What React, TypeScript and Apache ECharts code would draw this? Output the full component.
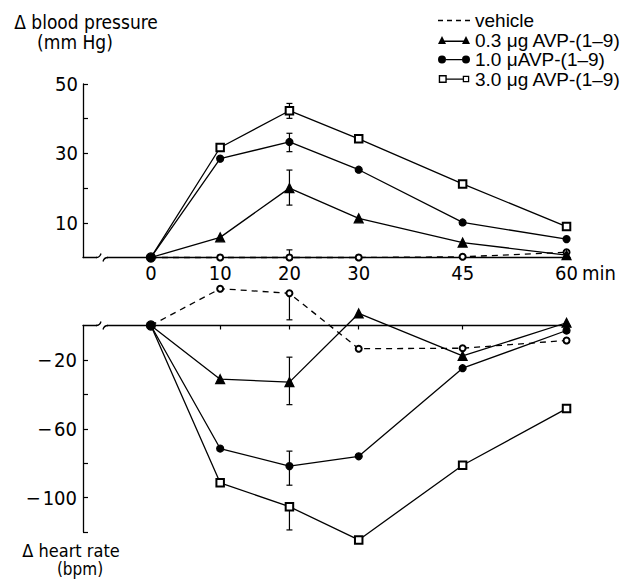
import React, { useEffect, useRef } from 'react';
import * as echarts from 'echarts';

// ---- data ----
const times = [0, 10, 20, 30, 45, 60];
const timeTickLabels = [0, 10, 20, 30, 45, 60];
const timeTicks = [10, 20, 30, 45, 60];
const bpTickLabels = [10, 30, 50];
const bpTicks = [10, 20, 30, 40, 50];
const hrTickLabels = [-20, -60, -100];
const hrTicks = [-20, -40, -60, -80, -100, -120];

const seriesNames = ['vehicle', '0.3 μg AVP-(1–9)', '1.0 μAVP-(1–9)', '3.0 μg AVP-(1–9)'];

// Δ blood pressure (mm Hg)
const bpVehicle = [0, 0, 0, 0, 0.2, 1.5];
const bp03 = [0, 5.8, 20, 11.3, 4.3, 0.7];
const bp10 = [0, 28.5, 33.3, 25.3, 10.1, 5.3];
const bp30 = [0, 31.7, 42.3, 34.2, 21.2, 8.9];

// Δ heart rate (bpm)
const hrVehicle = [0, 21.4, 18.7, -13.5, -13.2, -8.7];
const hr03 = [0, -31.2, -32.9, 7, -17.7, 1.6];
const hr10 = [0, -71.5, -81.7, -76, -24.8, -2.9];
const hr30 = [0, -91.4, -105.3, -124.6, -81.2, -48.3];

// error bars: [time, low, high]
const bpErrorBars = [
  [20, 0, 2.2],
  [20, 15.1, 25.2],
  [20, 30.5, 35.8],
  [20, 40.1, 44.4],
];
const hrErrorBars = [
  [20, 3.3, 18.7],
  [20, -46, -18.4],
  [20, -92.8, -73],
  [20, -118.8, -105.3],
];

// ---- layout / style ----
const AX_FONT = "'DejaVu Sans Condensed', 'Liberation Sans Narrow', 'DejaVu Sans', sans-serif";
const LEG_FONT = "'Liberation Sans', Arial, sans-serif";
const GRID_LEFT = 83;
const GRID_W = 487;
const TOP_GRID = { top: 84, height: 173.5 };
const BOT_GRID = { top: 325.5, height: 206.5 };
const X_MIN = -9.8;
const X_MAX = 60.5;
const LW = 1.3;

const seriesStyles = [
  { symbol: 'emptyCircle', size: 6, dashed: true },
  { symbol: 'triangle', size: 9, dashed: false },
  { symbol: 'circle', size: 7, dashed: false },
  { symbol: 'emptyRect', size: 7.5, dashed: false },
];

const legendIcons = [
  'path://M0,0h5v1.3h-5zM9,0h5v1.3h-5zM18,0h5v1.3h-5zM27,0h5v1.3h-5z',
  'path://M0,8L4,0L8,8zM24,8L28,0L32,8zM6,4.6h20v1.3h-20z',
  'path://M0,4A4,4,0,1,1,8,4A4,4,0,1,1,0,4zM24,4A4,4,0,1,1,32,4A4,4,0,1,1,24,4zM8,3.4h16v1.3h-16z',
  'path://M0,0h8v8h-8zM1.4,1.4v5.2h5.2v-5.2zM24,0.8h6.5v6.5h-6.5zM25.3,2.1v3.9h3.9v-3.9zM8,3.4h16v1.3h-16z',
];

function buildLine(name: string, values: number[], axisIdx: number, styleIdx: number) {
  const st = seriesStyles[styleIdx];
  return {
    type: 'line',
    name,
    xAxisIndex: axisIdx,
    yAxisIndex: axisIdx,
    clip: false,
    z: styleIdx === 2 ? 4 : 3,
    symbol: st.symbol,
    symbolSize: st.size,
    lineStyle: { color: '#000', width: LW, type: st.dashed ? [6, 5] : 'solid' },
    itemStyle: { color: '#000', borderColor: '#000', borderWidth: 1.2 },
    emphasis: { disabled: true },
    data: values.map((v, i) => ({
      value: [times[i], v],
      symbolSize: i === 0 ? (styleIdx === 2 ? 9 : 0) : st.size,
    })),
  };
}

function errorBarSeries(data: number[][], axisIdx: number) {
  return {
    type: 'custom',
    xAxisIndex: axisIdx,
    yAxisIndex: axisIdx,
    clip: false,
    silent: true,
    z: 2,
    data,
    renderItem: (params: any, api: any) => {
      const x = api.value(0);
      const p1 = api.coord([x, api.value(1)]);
      const p2 = api.coord([x, api.value(2)]);
      const w = 3;
      const s = { stroke: '#000', lineWidth: 1.2 };
      return {
        type: 'group',
        children: [
          { type: 'line', shape: { x1: p1[0], y1: p1[1], x2: p2[0], y2: p2[1] }, style: s },
          { type: 'line', shape: { x1: p1[0] - w, y1: p1[1], x2: p1[0] + w, y2: p1[1] }, style: s },
          { type: 'line', shape: { x1: p2[0] - w, y1: p2[1], x2: p2[0] + w, y2: p2[1] }, style: s },
        ],
      };
    },
  };
}

function breakMark(y: number) {
  const x0 = GRID_LEFT + 14;
  return [
    { type: 'rect', z: 100, shape: { x: x0, y: y - 5, width: 10, height: 10 }, style: { fill: '#fff' } },
    {
      type: 'bezierCurve', z: 101,
      shape: { x1: x0 - 1, y1: y, cpx1: x0 + 3, cpy1: y, x2: x0 + 4, y2: y - 4 },
      style: { stroke: '#000', lineWidth: LW, fill: null },
    },
    {
      type: 'bezierCurve', z: 101,
      shape: { x1: x0 + 6, y1: y + 4, cpx1: x0 + 7, cpy1: y, x2: x0 + 11, y2: y },
      style: { stroke: '#000', lineWidth: LW, fill: null },
    },
  ];
}

function titleText(text: string, x: number, y: number, size = 19) {
  return {
    type: 'text', x, y, z: 50,
    style: { text, fontSize: size, fontFamily: AX_FONT, fill: '#000', align: 'center', verticalAlign: 'middle' },
  };
}

const axisLabelStyle = { fontSize: 20, fontFamily: AX_FONT, color: '#000' };
const axisLineStyle = { show: true, onZero: false, lineStyle: { color: '#000', width: LW } };

export default function App() {
  const ref = useRef<HTMLDivElement>(null);
  useEffect(() => {
    if (!ref.current) return;
    const chart = echarts.init(ref.current, null, { renderer: 'svg' });
    const bpSets = [bpVehicle, bp03, bp10, bp30];
    const hrSets = [hrVehicle, hr03, hr10, hr30];
    const series: any[] = [];
    bpSets.forEach((vals, i) => series.push(buildLine(seriesNames[i], vals, 0, i)));
    hrSets.forEach((vals, i) => series.push(buildLine(seriesNames[i], vals, 1, i)));
    series.push(errorBarSeries(bpErrorBars, 0));
    series.push(errorBarSeries(hrErrorBars, 1));

    const option: any = {
      animation: false,
      backgroundColor: '#fff',
      grid: [
        { left: GRID_LEFT, width: GRID_W, top: TOP_GRID.top, height: TOP_GRID.height },
        { left: GRID_LEFT, width: GRID_W, top: BOT_GRID.top, height: BOT_GRID.height },
      ],
      xAxis: [
        {
          type: 'value', gridIndex: 0, min: X_MIN, max: X_MAX, position: 'bottom',
          axisLine: axisLineStyle,
          axisTick: { show: false },
          splitLine: { show: false },
          axisLabel: { ...axisLabelStyle, margin: 5, customValues: timeTickLabels },
          name: 'min', nameLocation: 'end', nameGap: 7,
          nameTextStyle: { ...axisLabelStyle, verticalAlign: 'top', padding: [5, 0, 0, 0] },
        },
        {
          type: 'value', gridIndex: 1, min: X_MIN, max: X_MAX, position: 'top',
          axisLine: axisLineStyle,
          axisTick: { show: true, inside: true, length: 4, customValues: timeTicks, lineStyle: { color: '#000', width: 1.2 } },
          splitLine: { show: false },
          axisLabel: { show: false },
        },
      ],
      yAxis: [
        {
          type: 'value', gridIndex: 0, min: 0, max: 50, interval: 10,
          axisLine: axisLineStyle,
          axisTick: { show: true, inside: true, length: 5, customValues: bpTicks, lineStyle: { color: '#000', width: 1.2 } },
          splitLine: { show: false },
          axisLabel: { ...axisLabelStyle, margin: 5, customValues: bpTickLabels },
        },
        {
          type: 'value', gridIndex: 1, min: -120, max: 0, interval: 20,
          axisLine: axisLineStyle,
          axisTick: { show: true, inside: true, length: 5, customValues: hrTicks, lineStyle: { color: '#000', width: 1.2 } },
          splitLine: { show: false },
          axisLabel: {
            ...axisLabelStyle, margin: 6, customValues: hrTickLabels,
            formatter: (v: number) => '\u2212\u200A' + Math.abs(v),
          },
        },
      ],
      legend: {
        orient: 'vertical', left: 433, top: 6, itemWidth: 32, itemHeight: 8, itemGap: 0.5,
        selectedMode: false,
        itemStyle: { color: '#000', borderWidth: 0 },
        textStyle: { fontFamily: LEG_FONT, fontSize: 19, color: '#000' },
        data: seriesNames.map((n, i) => ({ name: n, icon: legendIcons[i] })),
      },
      graphic: [
        titleText('Δ blood pressure', 86, 22),
        titleText('(mm Hg)', 75, 42),
        titleText('Δ heart rate', 71, 550, 18),
        titleText('(bpm)', 80, 569, 17),
        ...breakMark(TOP_GRID.top + TOP_GRID.height),
        ...breakMark(BOT_GRID.top),
      ],
      series,
    };
    chart.setOption(option);
    return () => chart.dispose();
  }, []);
  return <div ref={ref} style={{ position: 'absolute', left: 0, top: 0, width: 629, height: 579 }} />;
}
